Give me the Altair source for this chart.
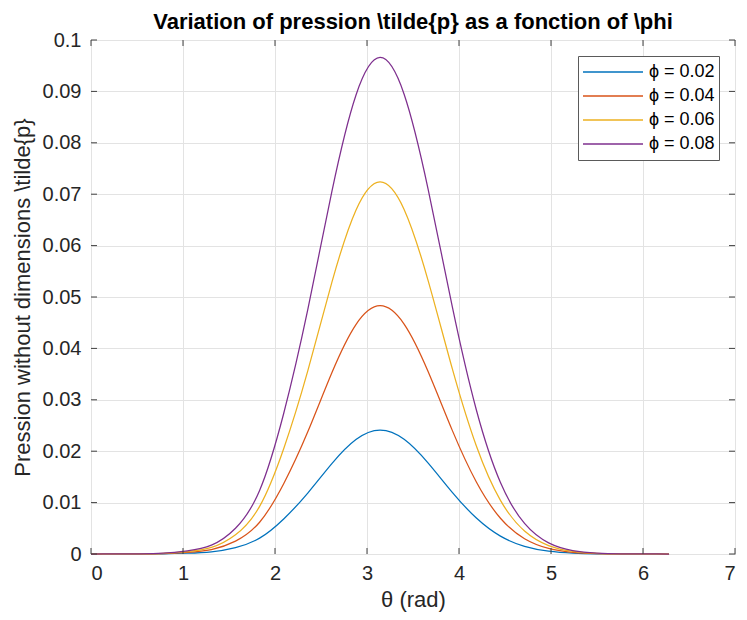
import altair as alt
import pandas as pd

theta = [0, 0.2618, 0.5236, 0.7854, 1.0472, 1.309, 1.5708, 1.8326, 2.0944, 2.3562,
         2.618, 2.8798, 3.1416, 3.4034, 3.6652, 3.927, 4.1888, 4.4506, 4.7124, 4.9742,
         5.236, 5.4978, 5.7596, 6.0214, 6.2832]
p_002 = [0, 0.0000017, 0.0000092, 0.000041, 0.000157, 0.000429, 0.001248, 0.003085,
         0.00682, 0.011857, 0.017593, 0.022268, 0.0241, 0.022317, 0.017689, 0.012002,
         0.006989, 0.00347, 0.001485, 0.000542, 0.000169, 0.0000458, 0.0000104, 0.000002, 0]
p_004 = [0, 0.0000034, 0.0000184, 0.0000821, 0.000314, 0.00086, 0.002502, 0.006182,
         0.013669, 0.023764, 0.035259, 0.044629, 0.0483, 0.044726, 0.035452, 0.024053,
         0.014007, 0.006955, 0.002975, 0.001087, 0.000338, 0.0000918, 0.0000208, 0.0000041, 0]
p_006 = [0, 0.0000051, 0.0000275, 0.000123, 0.000471, 0.001289, 0.00375, 0.009267,
         0.020489, 0.035621, 0.052852, 0.066898, 0.0724, 0.067042, 0.053142, 0.036055,
         0.020996, 0.010426, 0.00446, 0.001629, 0.000507, 0.000138, 0.0000311, 0.0000062, 0]
p_008 = [0, 0.0000068, 0.0000367, 0.000164, 0.000628, 0.00172, 0.005004, 0.012365,
         0.027338, 0.047527, 0.070518, 0.089258, 0.0966, 0.089452, 0.070904, 0.048107,
         0.028014, 0.01391, 0.005951, 0.002174, 0.000676, 0.000184, 0.0000415, 0.0000082, 0]

series_labels = ["ϕ = 0.02", "ϕ = 0.04", "ϕ = 0.06", "ϕ = 0.08"]
series_colors = ["#0072BD", "#D95319", "#EDB120", "#7E2F8E"]
x_ticks = [0, 1, 2, 3, 4, 5, 6, 7]
y_ticks = [0, 0.01, 0.02, 0.03, 0.04, 0.05, 0.06, 0.07, 0.08, 0.09, 0.1]

W, H = 644, 514
FONT = "Liberation Sans"

rows = []
for lab, vals in zip(series_labels, [p_002, p_004, p_006, p_008]):
    for t, v in zip(theta, vals):
        rows.append({"theta": t, "p": v, "series": lab})
df = pd.DataFrame(rows)

xscale = alt.Scale(domain=[0, 7], nice=False, zero=False)
yscale = alt.Scale(domain=[0, 0.1], nice=False)

lines = alt.Chart(df).mark_line(strokeWidth=1.25, interpolate="natural").encode(
    x=alt.X("theta:Q", scale=xscale,
            axis=alt.Axis(values=x_ticks, format="d", title="θ (rad)")),
    y=alt.Y("p:Q", scale=yscale,
            axis=alt.Axis(values=y_ticks, format="~g",
                          title="Pression without dimensions \\tilde{p}")),
    color=alt.Color("series:N",
                    scale=alt.Scale(domain=series_labels, range=series_colors),
                    legend=alt.Legend(title=None, orient="top-right", offset=16)),
)

xt = pd.DataFrame({"theta": x_ticks})
yt = pd.DataFrame({"p": y_ticks})
tick_col = "#404040"
bottom_ticks = alt.Chart(xt).mark_rule(color=tick_col, strokeWidth=1).encode(
    x=alt.X("theta:Q", scale=xscale), y=alt.value(H), y2=alt.value(H - 6))
top_ticks = alt.Chart(xt).mark_rule(color=tick_col, strokeWidth=1).encode(
    x=alt.X("theta:Q", scale=xscale), y=alt.value(0), y2=alt.value(6))
left_ticks = alt.Chart(yt).mark_rule(color=tick_col, strokeWidth=1).encode(
    y=alt.Y("p:Q", scale=yscale), x=alt.value(0), x2=alt.value(6))
right_ticks = alt.Chart(yt).mark_rule(color=tick_col, strokeWidth=1).encode(
    y=alt.Y("p:Q", scale=yscale), x=alt.value(W), x2=alt.value(W - 6))

chart = alt.layer(lines, bottom_ticks, top_ticks, left_ticks, right_ticks).properties(
    width=W, height=H,
    padding={"left": 3, "top": 3, "right": 2, "bottom": 2},
    title=alt.TitleParams(
        "Variation of pression \\tilde{p} as a fonction of \\phi",
        font=FONT, fontSize=22, fontWeight="bold", color="#000000",
        anchor="middle", offset=-4),
).configure_view(
    stroke="#5a5a5a", strokeWidth=1
).configure_axis(
    domain=False, ticks=False, grid=True, gridColor="#e3e3e3", gridWidth=1,
    labelFont=FONT, labelFontSize=20, labelColor="#262626", labelPadding=9,
    titleFont=FONT, titleFontSize=22, titleFontWeight="normal", titleColor="#262626",
).configure_axisY(
    titlePadding=8, labelPadding=10
).configure_axisX(
    titlePadding=6
).configure_legend(
    symbolType="stroke", symbolSize=3600, symbolStrokeWidth=1.3, clipHeight=24,
    rowPadding=0, padding=4, labelFont=FONT, labelFontSize=18, labelColor="#000000",
    labelOffset=5, strokeColor="#5a5a5a", fillColor="#ffffff", cornerRadius=0,
)

chart.save("out.html", embed_options={"renderer": "svg", "actions": False})
